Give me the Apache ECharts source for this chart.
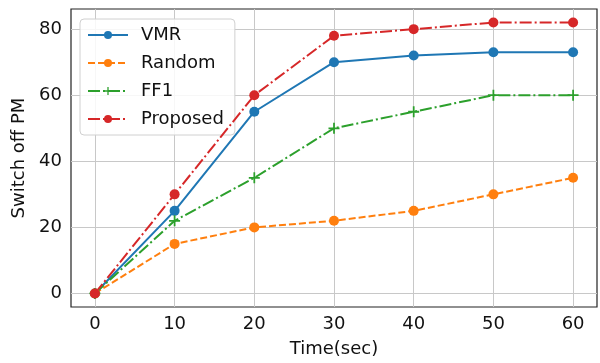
<!DOCTYPE html>
<html>
<head>
<meta charset="utf-8">
<script src="https://cdn.jsdelivr.net/npm/echarts@6/dist/echarts.min.js"></script>
<style>
  html, body { margin: 0; padding: 0; background: #fff; }
  #chart { width: 600px; height: 363px; }
</style>
</head>
<body>
<div id="chart"></div>
<script>
// data
const times = [0, 10, 20, 30, 40, 50, 60]
const vmr = [0, 25, 55, 70, 72, 73, 73]
const random = [0, 15, 20, 22, 25, 30, 35]
const ff1 = [0, 22, 35, 50, 55, 60, 60]
const proposed = [0, 30, 60, 78, 80, 82, 82]
const xTicks = [0, 10, 20, 30, 40, 50, 60]
const yTicks = [0, 20, 40, 60, 80]

const font = 'DejaVu Sans'
const plus = 'path://M4.2,0h1.6v10h-1.6zM0,4.2h10v1.6h-10z'

function pairs(vals) {
  return times.map((t, i) => [t, vals[i]])
}

function makeSeries(name, vals, color, dash, symbol, size) {
  return {
    name: name,
    type: 'line',
    z: 5,
    data: pairs(vals),
    symbol: symbol,
    symbolSize: size,
    showAllSymbol: true,
    lineStyle: { color: color, width: 2, type: dash },
    itemStyle: { color: color, borderWidth: 0 },
    emphasis: { disabled: true },
    animation: false
  }
}

let myChart = echarts.init(document.getElementById('chart'))
let option = {
  backgroundColor: '#fff',
  grid: {
    left: 71,
    right: 3,
    top: 9,
    bottom: 55,
    show: true,
    borderColor: '#222',
    borderWidth: 1.2,
    backgroundColor: 'transparent'
  },
  legend: {
    left: 80,
    top: 19,
    orient: 'vertical',
    itemWidth: 40,
    itemHeight: 10,
    itemGap: 10,
    padding: [7, 11, 7, 7],
    backgroundColor: 'rgba(255,255,255,0.85)',
    borderColor: '#d0d0d0',
    borderWidth: 1,
    borderRadius: 4,
    textStyle: { fontFamily: font, fontSize: 18, color: '#111', padding: [0, 0, 0, 8] },
    data: ['VMR', 'Random', 'FF1', 'Proposed']
  },
  xAxis: {
    type: 'value',
    min: -3,
    max: 63,
    name: 'Time(sec)',
    nameLocation: 'middle',
    nameGap: 33,
    nameTextStyle: { fontFamily: font, fontSize: 18, color: '#111' },
    axisLine: { show: false },
    axisTick: { show: true, inside: false, length: 5, customValues: xTicks, lineStyle: { color: '#222' } },
    axisLabel: { customValues: xTicks, margin: 8, fontFamily: font, fontSize: 18, color: '#111' },
    splitLine: { show: false }
  },
  yAxis: {
    type: 'value',
    min: -4.1,
    max: 86.1,
    name: 'Switch off PM',
    nameLocation: 'middle',
    nameGap: 40,
    nameTextStyle: { fontFamily: font, fontSize: 18, color: '#111' },
    axisLine: { show: false },
    axisTick: { show: true, inside: false, length: 5, customValues: yTicks, lineStyle: { color: '#222' } },
    axisLabel: { customValues: yTicks, margin: 9, fontFamily: font, fontSize: 18, color: '#111' },
    splitLine: { show: false }
  },
  series: [
    // grid lines at the tick values, kept under the data lines
    {
      type: 'line',
      z: 1,
      data: [],
      silent: true,
      markLine: {
        silent: true,
        z: 1,
        symbol: 'none',
        label: { show: false },
        animation: false,
        lineStyle: { color: '#c8c8c8', width: 1, type: 'solid' },
        data: xTicks.map(v => ({ xAxis: v })).concat(yTicks.map(v => ({ yAxis: v })))
      }
    },
    makeSeries('VMR', vmr, '#1f77b4', 'solid', 'circle', 10),
    makeSeries('Random', random, '#ff7f0e', [7, 3], 'circle', 10),
    makeSeries('FF1', ff1, '#2ca02c', [12, 3, 2, 3], plus, 11),
    makeSeries('Proposed', proposed, '#d62728', [12, 3, 2, 3], 'circle', 10)
  ]
}
myChart.setOption(option)
</script>
</body>
</html>
